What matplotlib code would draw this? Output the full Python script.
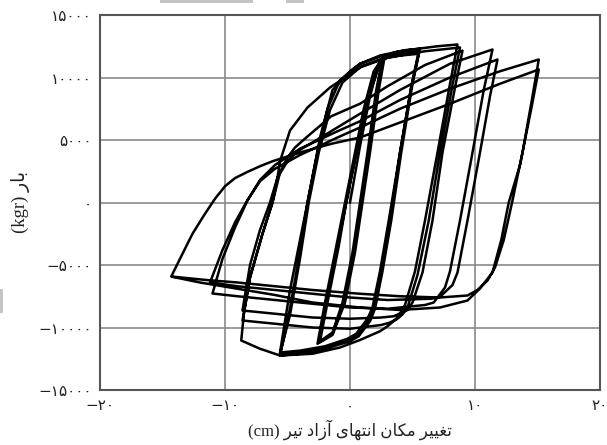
# Hysteresis loops: load vs. free-end displacement of the beam
import numpy as np
import matplotlib.pyplot as plt
from matplotlib.patches import Rectangle

plt.rcParams['font.family'] = ['Liberation Serif', 'DejaVu Sans']

# ---- axis ticks (Persian digits) ----
x_ticks = [-20, -10, 0, 10, 20]
x_tick_labels = ["\u2212\u06F2\u06F0", "\u2212\u06F1\u06F0", "\u06F0", "\u06F1\u06F0", "\u06F2\u06F0"]
y_ticks = [15000, 10000, 5000, 0, -5000, -10000, -15000]
y_tick_labels = ["\u06F1\u06F5\u06F0\u06F0\u06F0", "\u06F1\u06F0\u06F0\u06F0\u06F0", "\u06F5\u06F0\u06F0\u06F0",
                 "\u06F0", "\u2212\u06F5\u06F0\u06F0\u06F0", "\u2212\u06F1\u06F0\u06F0\u06F0\u06F0",
                 "\u2212\u06F1\u06F5\u06F0\u06F0\u06F0"]

# ---- labels, already in visual (left-to-right) order with joined letter forms ----
y_label = "(kgr) " + "\uFEAD\uFE8E\uFE91"
x_label = ("(cm) " + "\uFEAE\uFBFF\uFE97" + " " + "\uFEA9\uFE8D\uFEAF\uFE81" + " "
           + "\uFBFC\uFE8E\uFEEC\uFE98\uFEE7\uFE8D" + " " + "\uFEE5\uFE8E\uFB91\uFEE3" + " "
           + "\uFEAE\uFBFF\uFBFF\uFED0\uFE97")

# ---- loops (displacement cm, load kgr) ----
# stage A, about +-2.7 cm
cyc_a1_x = [0, 0.8, 1.6, 2.2, 2.8, 2.3, 1.6, 1.0, 0.4, -0.4, -1.4, -2.6]
cyc_a1_y = [0, 4500, 8500, 10700, 11800, 9000, 4000, 0, -4000, -8000, -10600, -11300]
cyc_a2_x = [-2.0, -1.1, -0.5, 0.3, 1.1, 1.9, 2.7, 2.2, 1.5, 0.9, 0.3, -0.5, -1.4, -2.5]
cyc_a2_y = [-8000, -3500, -500, 3500, 7500, 10500, 11700, 9000, 4000, 0, -4000, -8000, -10500, -11200]
cyc_a3_x = [-1.9, -1.0, -0.4, 0.4, 1.2, 1.9, 2.6, 2.1, 1.4, 0.8, 0.2, -0.6, -1.4, -2.4]
cyc_a3_y = [-8000, -3500, -500, 3500, 7500, 10300, 11600, 9000, 4000, 0, -4000, -8000, -10400, -11100]

# stage B, about +-5.6 cm
cyc_b1_x = [-1.8, -0.9, -0.3, 0.6, 1.5, 2.4, 3.5, 4.5, 5.6,
            5.0, 4.1, 3.3, 2.6, 2.0, 1.6, 0.7, 0, -2, -4, -5.6]
cyc_b1_y = [-8000, -3500, 0, 4500, 8500, 11200, 12000, 12200, 12300,
            9500, 4000, -1440, -5500, -8500, -9500, -10700, -11100, -11700, -12100, -12240]
cyc_b2_x = [-4.9, -4.1, -3.4, -2.6, -1.8, -0.8, 0.8, 2.5, 4, 5.5,
            4.9, 4.0, 3.2, 2.5, 1.9, 1.5, 0.6, -0.1, -2, -4, -5.6]
cyc_b2_y = [-9000, -4500, 0, 4000, 7500, 9800, 11100, 11700, 11950, 12100,
            9300, 4000, -1440, -5500, -8500, -9400, -10600, -11000, -11600, -11950, -12100]
cyc_b3_x = [-4.8, -4.0, -3.3, -2.5, -1.6, -0.6, 0.9, 2.6, 4, 5.5,
            4.9, 4.0, 3.1, 2.4, 1.8, 1.4, 0.5, -0.2, -2, -4, -5.6]
cyc_b3_y = [-9000, -4500, 0, 4000, 7400, 9600, 10900, 11500, 11750, 11900,
            9200, 4000, -1440, -5500, -8400, -9300, -10500, -10900, -11500, -11850, -12000]

# stage C, about +-8.7 cm
cyc_c1_x = [-4.8, -4.0, -3.4, -2.4, -1.4, 0, 0.8, 2.4, 4, 5.6, 7, 8.6,
            8.0, 7.0, 6.0, 5.2, 4.4, 4.0, 3.6, 3.0, 2.4, 0.8, -0.8, -3, -5.6, -7.2, -8.7]
cyc_c1_y = [-7000, -3000, 0, 5200, 9000, 10500, 11100, 11760, 12100, 12320, 12500, 12640,
            9500, 4000, -1440, -5500, -8200, -8900, -9400, -9900, -10300, -11000, -11600, -12100, -12240, -11700, -11040]
cyc_c2_x = [-8.5, -8.0, -7.0, -6.2, -5.8, -5.6, -4.8, -3.4, -1.6, 0.8, 3, 6, 8.8,
            8.2, 7.2, 6.3, 5.4, 4.6, 4.2, 3.8, 3.2, 2.5, 0, -3, -6, -8.6]
cyc_c2_y = [-9000, -6000, -2500, 0, 2000, 3300, 5760, 7600, 9200, 10800, 11600, 12100, 12400,
            9400, 4000, -1440, -5800, -8400, -8950, -9300, -9600, -9800, -10100, -10000, -9700, -9440]
cyc_c3_x = [-8.0, -7.0, -6.2, -5.6, -5.0, -4.4, -3.5, -1.5, 0.8, 3, 6, 9.0,
            8.4, 7.4, 6.6, 5.8, 5.0, 4.6, 3.5, 2.5, 0, -3, -6, -8.6]
cyc_c3_y = [-6000, -2500, 0, 2400, 3600, 4400, 5200, 6900, 7900, 9300, 11000, 12150,
            9200, 4000, -1440, -5600, -8000, -8600, -9100, -9200, -9300, -9200, -8900, -8640]

# stage D, about +-11.5 cm
cyc_d1_x = [-8.0, -7.2, -6.4, -5.8, -5.0, -4.2, -3, 0.8, 4, 8, 11.4,
            10.7, 9.8, 8.8, 8.0, 7.6, 6.7, 6, 3, 0, -3, -6, -9, -11.0]
cyc_d1_y = [-5000, -2200, 0, 2000, 3300, 4100, 4800, 7100, 9000, 11100, 12240,
            9000, 4000, -1440, -5500, -6800, -8000, -8200, -8500, -8400, -8100, -7800, -7500, -7280]
cyc_d2_x = [-10.2, -9.2, -8.2, -7.2, -6, -4, -1, 0.8, 4, 8, 11.8,
            11.2, 10.4, 9.4, 8.6, 8.2, 7.2, 6.5, 3, 0, -3, -6, -9, -11.2]
cyc_d2_y = [-4500, -2000, 160, 1800, 3000, 4300, 5700, 6500, 8200, 10000, 11440,
            8500, 4000, -1440, -5600, -6600, -7550, -7700, -7800, -7600, -7300, -7000, -6700, -6400]

# stage E, about +-15 cm
cyc_e1_x = [-10.2, -9.2, -8.2, -7.2, -6, -4, -1, 0.8, 4, 8, 12, 15.1,
            14.6, 13.8, 13.0, 12.3, 11.6, 11.0, 10.2, 9.4, 7.2, 4, 0.8, -3, -6, -9, -11.5, -14.3]
cyc_e1_y = [-3800, -1600, 200, 1700, 2700, 3800, 5200, 6000, 7500, 9100, 10500, 11440,
            8500, 4000, 160, -3000, -5200, -6240, -7000, -7440, -7600, -7500, -7300, -7000, -6700, -6400, -6200, -5920]
cyc_e2_x = [-13.5, -12.6, -11.6, -10.8, -10.0, -9.2, -8.2, -7.2, -6.2, -4, -1.4, 0.8, 4, 8, 12, 15.1,
            14.5, 13.6, 12.7, 12.1, 11.4, 10.4, 9.4, 7.2, 4, 0.8, -3, -6, -9, -12, -14.2]
cyc_e2_y = [-4300, -2500, -900, 300, 1300, 1950, 2450, 2900, 3300, 4000, 4720, 5200, 6400, 7900, 9500, 10640,
            7500, 3000, 0, -3000, -5600, -6880, -7840, -8400, -8600, -8400, -8000, -7400, -6900, -6400, -5950]

# join the cycles in test order into one continuous trace
x_all = np.concatenate([cyc_a1_x, cyc_a2_x, cyc_a3_x, cyc_b1_x, cyc_b2_x, cyc_b3_x,
                        cyc_c1_x, cyc_c2_x, cyc_c3_x, cyc_d1_x, cyc_d2_x, cyc_e1_x, cyc_e2_x])
y_all = np.concatenate([cyc_a1_y, cyc_a2_y, cyc_a3_y, cyc_b1_y, cyc_b2_y, cyc_b3_y,
                        cyc_c1_y, cyc_c2_y, cyc_c3_y, cyc_d1_y, cyc_d2_y, cyc_e1_y, cyc_e2_y])

fig = plt.figure(figsize=(6.07, 4.45), dpi=100)
ax = fig.add_axes([100 / 607, 1 - 390 / 445, 500 / 607, 375 / 445])

ax.plot(x_all, y_all, color="black", lw=1.8, solid_joinstyle="round", zorder=3)

ax.set_xlim(-20, 20)
ax.set_ylim(-15000, 15000)
ax.set_xticks(x_ticks)
ax.set_xticklabels(x_tick_labels, family="DejaVu Sans", fontsize=11, color="#222222")
ax.set_yticks(y_ticks)
ax.set_yticklabels(y_tick_labels, family="DejaVu Sans", fontsize=11, color="#222222")
ax.tick_params(length=0, pad=6)
ax.grid(True, color="#8a8a8a", lw=1.2)
for s in ax.spines.values():
    s.set_color("#555555")
    s.set_linewidth(1.5)

fig.text(350 / 607, 1 - 430 / 445, x_label, ha="center", va="center", fontsize=12, color="#222222")
fig.text(20 / 607, 1 - 202 / 445, y_label, ha="center", va="center", rotation=90, fontsize=13.5, color="#222222")

# faint scan marks at the page edges
fig.add_artist(Rectangle((160 / 607, 1 - 3 / 445), 93 / 607, 3 / 445, transform=fig.transFigure,
                         color="#c4c4c4", lw=0))
fig.add_artist(Rectangle((286 / 607, 1 - 3 / 445), 18 / 607, 3 / 445, transform=fig.transFigure,
                         color="#c4c4c4", lw=0))
fig.add_artist(Rectangle((0, 1 - 313 / 445), 3 / 607, 24 / 445, transform=fig.transFigure,
                         color="#c4c4c4", lw=0))

fig.savefig("out.png", dpi=100)
